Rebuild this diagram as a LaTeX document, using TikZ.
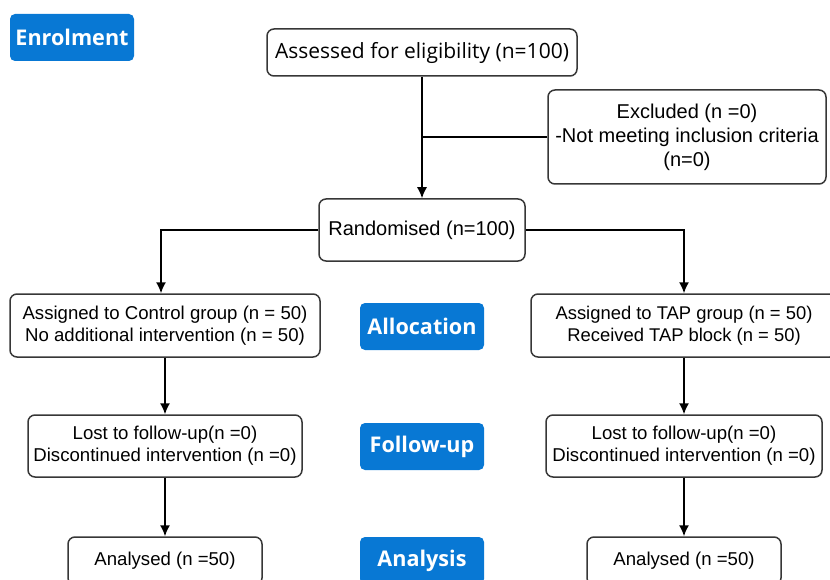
\documentclass[tikz,border=0pt]{standalone}
\usepackage{fontspec}
\setmainfont{Liberation Sans}
\newfontfamily\phasefont{Open Sans}
\usetikzlibrary{arrows.meta}
\definecolor{phaseblue}{RGB}{8,120,212}
\definecolor{boxline}{RGB}{55,55,55}
\tikzset{
  box/.style={draw=boxline, line width=1.5pt, rounded corners=7pt, fill=white,
    align=center, inner sep=0pt, font=\fontsize{18.6}{22}\selectfont},
  phase/.style={fill=phaseblue, rounded corners=5pt, text=white, inner sep=0pt,
    minimum width=124pt, minimum height=47pt,
    font=\phasefont\bfseries\fontsize{21.6}{24}\selectfont},
}
\begin{document}
\begin{tikzpicture}[x=1pt, y=-1pt, line width=1.5pt, >={Latex[length=11pt,width=10pt]}]
        \useasboundingbox (0,0) rectangle (830,580);
        \clip (0,0) rectangle (830,580);
        % Phasen
        \node[phase] (enrol) at (72,37.5) {Enrolment};
        \node[phase] (alloc) at (422,326.5) {Allocation};
        \node[phase] (follow) at (422,446.5) {Follow-up};
        \node[phase] (analysis) at (422,560.5) {Analysis};
        % Kaesten
        \node[box, minimum width=310, minimum height=47, font=\phasefont\fontsize{21}{24}\selectfont]
            (assess) at (422,52.5) {\raisebox{-2pt}{Assessed for eligibility (n=100)}};
        \node[box, minimum width=278, minimum height=94, font=\fontsize{20}{24}\selectfont]
            (exclude) at (687,137) {Excluded (n =0)\\-Not meeting inclusion criteria\\(n=0)};
        \node[box, minimum width=206, minimum height=62, font=\fontsize{20}{24}\selectfont]
            (random) at (422,230) {\raisebox{-2pt}{Randomised (n=100)}};
        \node[box, minimum width=310, minimum height=63] (control) at (165,325.5)
            {Assigned to Control group (n = 50)\\No additional intervention (n = 50)};
        \node[box, minimum width=306, minimum height=63, font=\fontsize{18.4}{22}\selectfont]
            (tap) at (684,325.5) {Assigned to TAP group (n = 50)\\ Received TAP block (n = 50)};
        \node[box, minimum width=274, minimum height=62] (followc) at (165,446)
            {Lost to follow-up(n =0)\\Discontinued intervention (n =0)};
        \node[box, minimum width=276, minimum height=62] (followt) at (684,446)
            {Lost to follow-up(n =0)\\Discontinued intervention (n =0)};
        \node[box, minimum width=194, minimum height=48] (analysec) at (165,561) {Analysed (n =50)};
        \node[box, minimum width=194, minimum height=48] (analyset) at (684,561) {Analysed (n =50)};
        % Pfeile
        \draw[->] (assess) -- (random);
        \draw (exclude.west) -- (exclude.west -| assess.south);
        \draw[->] (random.west) -| ([xshift=-4pt]control.north);
        \draw[->] (random.east) -| (tap.north);
        \draw[->] (control) -- (followc);
        \draw[->] (followc) -- (analysec);
        \draw[->] (tap) -- (followt);
        \draw[->] (followt) -- (analyset);
    \end{tikzpicture}
\end{document}
